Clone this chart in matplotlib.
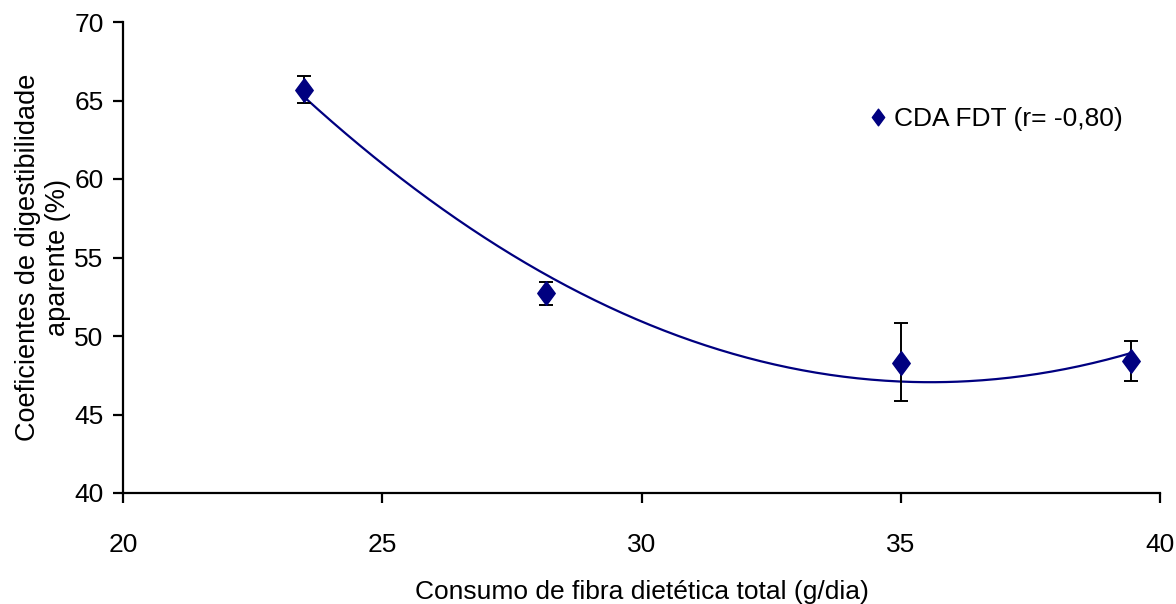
import numpy as np
import matplotlib
matplotlib.use("Agg")
import matplotlib.pyplot as plt
from matplotlib.path import Path
from matplotlib.lines import Line2D

# Data
fiber_intake = [23.5, 28.15, 35.0, 39.45]      # g/dia
digestibility = [65.7, 52.75, 48.3, 48.4]       # %
err_upper = [66.55, 53.45, 50.85, 49.7]
err_lower = [64.85, 51.95, 45.85, 47.15]
legend_label = "CDA FDT (r= -0,80)"
x_ticks = [20, 25, 30, 35, 40]
y_ticks = [40, 45, 50, 55, 60, 65, 70]

navy = "#000080"
plt.rcParams['font.family'] = ['Liberation Sans Narrow', 'Liberation Sans', 'DejaVu Sans']

fig = plt.figure(figsize=(11.76, 6.04), dpi=100)
ax = fig.add_axes([123/1176, 1 - 493/604, (1160-123)/1176, (493-22)/604])

x = np.array(fiber_intake)
y = np.array(digestibility)
yerr = np.vstack([y - np.array(err_lower), np.array(err_upper) - y])

# quadratic trend line
coef = np.polyfit(x, y, 2)
xs = np.linspace(x.min(), x.max(), 300)
ax.plot(xs, np.polyval(coef, xs), color=navy, lw=1.6, zorder=2)

ax.errorbar(x, y, yerr=yerr, fmt='none', ecolor='black', elinewidth=1.4,
            capsize=5, capthick=1.4, zorder=3)

diamond = Path([(0, 1), (0.74, 0), (0, -1), (-0.74, 0), (0, 1)],
               [Path.MOVETO, Path.LINETO, Path.LINETO, Path.LINETO, Path.CLOSEPOLY])
ax.plot(x, y, ls='none', marker=diamond, markersize=17, color=navy, zorder=4)

ax.set_xlim(20, 40)
ax.set_ylim(40, 70)
ax.set_xticks(x_ticks)
ax.set_yticks(y_ticks)
for s in ['top', 'right']:
    ax.spines[s].set_visible(False)
for s in ['left', 'bottom']:
    ax.spines[s].set_linewidth(1.6)
ax.tick_params(axis='both', direction='out', length=7, width=1.6, labelsize=19)
ax.tick_params(axis='x', pad=22)
ax.tick_params(axis='y', pad=7)

ax.set_xlabel("Consumo de fibra dietética total (g/dia)", fontsize=19, labelpad=16)
ax.set_ylabel("Coeficientes de digestibilidade\naparente (%)", fontsize=19.5,
              linespacing=1.2)
ax.yaxis.set_label_coords(-0.05, 0.5)

h = Line2D([], [], ls='none', marker=diamond, markersize=12, color=navy)
ax.legend(handles=[h], labels=[legend_label], loc='center left',
          bbox_to_anchor=(0.722, 0.794), frameon=False, fontsize=19,
          handlelength=0.5, handletextpad=0.35, borderpad=0, borderaxespad=0)

fig.savefig("out.png", dpi=100)
